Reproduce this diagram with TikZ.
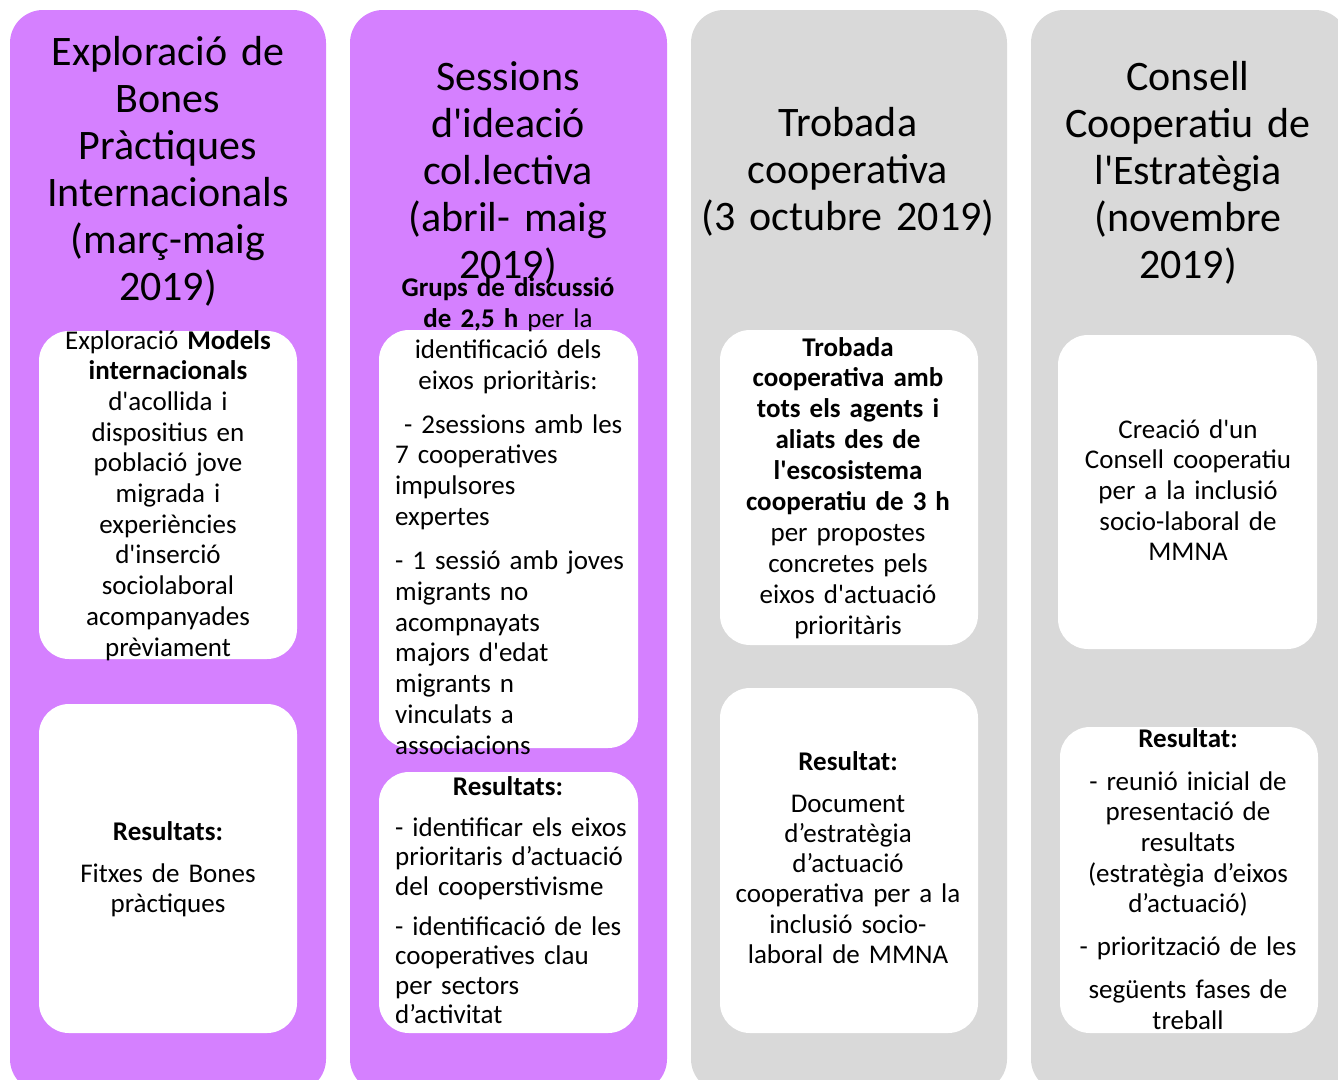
\documentclass[tikz,border=0pt]{standalone}
\usepackage{fontspec}
\setmainfont{Carlito}[Ligatures=TeXOff]
\definecolor{lila}{HTML}{D580FF}
\definecolor{gris}{HTML}{D9D9D9}

\begin{document}
\begin{tikzpicture}[x=1pt, y=-1pt,
    column/.style={rounded corners=33pt},
    card/.style={fill=white, rounded corners=30pt},
    heading/.style={anchor=base, align=center, inner sep=0pt, text width=300pt,
      font=\fontsize{42}{47}\selectfont},
    body/.style={anchor=base, align=center, inner sep=0pt, text width=280pt,
      font=\fontsize{27}{30.7}\selectfont},
    list/.style={body, align=left, anchor=base west, text width=240pt}]

  \useasboundingbox (0,0) rectangle (1338,1079);
  \clip (0,0) rectangle (1338,1079);

  % four phases
  \fill[lila, column] (10,10) rectangle (326,1092);
  \fill[lila, column] (350,10) rectangle (667,1092);
  \fill[gris, column] (691,10) rectangle (1007,1092);
  \fill[gris, column] (1031,10) rectangle (1348,1092);

  % white cards
  \fill[card] (39,331) rectangle (297,659);
  \fill[card] (39,704) rectangle (297,1033);
  \fill[card] (379,330) rectangle (638,748);
  \fill[card] (379,772) rectangle (638,1033);
  \fill[card] (720,330) rectangle (978,645);
  \fill[card] (720,688) rectangle (978,1033);
  \fill[card] (1058,335) rectangle (1317,649);
  \fill[card] (1060,727) rectangle (1318,1033);

  % phase 1
  \node[heading] (explTitle) at (168,65)
    {Exploració de\\Bones\\Pràctiques\\Internacionals\\(març-maig\\2019)};
  \node[body] (explText) at (168,349)
    {Exploració \textbf{Models}\\\textbf{internacionals}\\d'acollida i\\
     dispositius en\\població jove\\migrada i\\experiències\\d'inserció\\
     sociolaboral\\acompanyades\\prèviament};
  \node[body] (explRes) at (168,840)
    {\textbf{Resultats:}\\[11.3pt]Fitxes de Bones\\pràctiques};

  % phase 2
  \node[heading] (ideaTitle) at (508,90)
    {Sessions\\d'ideació\\col.lectiva\\(abril- maig\\2019)};
  \node[body, font=\fontsize{27}{31.3}\selectfont] (ideaText) at (508,296)
    {\textbf{Grups de discussió}\\\textbf{de 2,5 h} per la\\
     identificació dels\\eixos prioritàris:};
  \node[list] (ideaList) at (395,433)
    {\ - 2sessions amb les\\7 cooperatives\\impulsores\\expertes\\[14pt]
     - 1 sessió amb joves\\migrants no\\acompnayats\\majors d'edat\\
     migrants n\\vinculats a\\associacions};
  \node[body] (ideaRes) at (508,795) {\textbf{Resultats:}};
  \node[list, font=\fontsize{27}{29.5}\selectfont] (ideaResList) at (395,836)
    {- identificar els eixos\\prioritaris d’actuació\\del cooperstivisme\\[10.5pt]
     - identificació de les\\cooperatives clau\\per sectors\\d’activitat};

  % phase 3
  \node[heading] (meetTitle) at (848,136)
    {Trobada\\cooperativa\\(3 octubre 2019)};
  \node[body, font=\fontsize{27}{30.9}\selectfont] (meetText) at (848,356)
    {\textbf{Trobada}\\\textbf{cooperativa amb}\\\textbf{tots els agents i}\\
     \textbf{aliats des de}\\\textbf{l'escosistema}\\\textbf{cooperatiu de 3 h}\\
     per propostes\\concretes pels\\eixos d'actuació\\prioritàris};
  \node[body, font=\fontsize{27}{30.3}\selectfont] (meetRes) at (848,770)
    {\textbf{Resultat:}\\[11.7pt]Document\\d’estratègia\\d’actuació\\
     cooperativa per a la\\inclusió socio-\\laboral de MMNA};

  % phase 4
  \node[heading] (councTitle) at (1188,90)
    {Consell\\Cooperatiu de\\l'Estratègia\\(novembre\\2019)};
  \node[body] (councText) at (1188,438)
    {Creació d'un\\Consell cooperatiu\\per a la inclusió\\socio-laboral de\\MMNA};
  \node[body] (councRes) at (1188,747)
    {\textbf{Resultat:}\\[12.3pt]- reunió inicial de\\presentació de\\resultats\\
     (estratègia d’eixos\\d’actuació)\\[12.3pt]- priorització de les\\[12.3pt]
     següents fases de\\treball};
\end{tikzpicture}
\end{document}
